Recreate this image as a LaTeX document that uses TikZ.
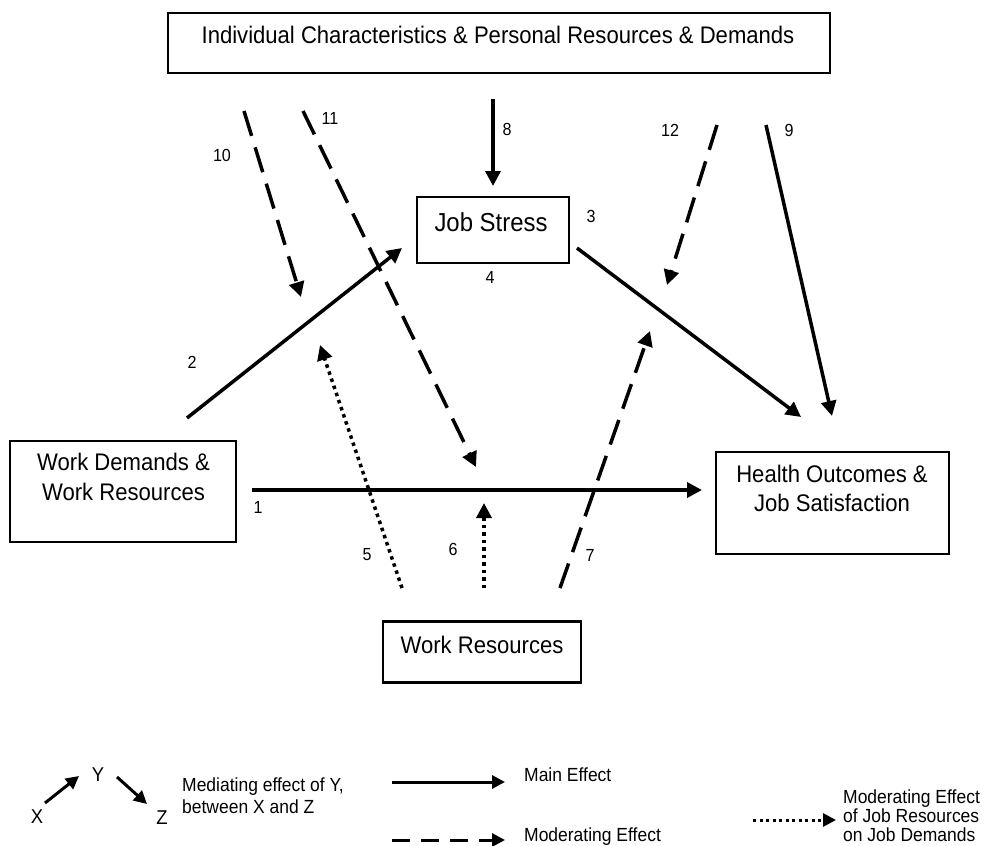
\documentclass[tikz,border=0pt]{standalone}
\usepackage{fontspec}
\setmainfont{Liberation Sans}[FakeStretch=0.92]
\usetikzlibrary{arrows.meta}
\begin{document}
\begin{tikzpicture}[x=1pt,y=-1pt,
  box/.style={draw,line width=2.6pt,inner sep=0pt},
  boxtext/.style={font=\fontsize{24}{29.5}\selectfont,align=center,inner sep=0pt},
  num/.style={font=\fontsize{17.5}{19}\selectfont,inner sep=0pt},
  leg/.style={font=\fontsize{19}{19}\selectfont,inner sep=0pt,align=left},
  tip/.style={-{Triangle[length=15pt,width=15pt]}},
  ltip/.style={-{Triangle[length=13pt,width=13pt]}},
  mainarr/.style={tip,line width=3.5pt},
  modarr/.style={tip,line width=3.5pt,dash pattern=on 26pt off 12pt},
  dotarr/.style={tip,line width=3.5pt,dash pattern=on 3.5pt off 4pt},
]
\useasboundingbox (0,0) rectangle (989,846);
% boxes
\node[box,minimum width=662pt,minimum height=60pt] (top) at (499,43) {};
\node[boxtext] (toptxt) at (498,35) {Individual Characteristics \& Personal Resources \& Demands};
\node[box,minimum width=152pt,minimum height=66pt] (js) at (493,230) {};
\node[boxtext,font=\fontsize{26}{30}\selectfont] (jstxt) at (491,222) {Job Stress};
\node[box,minimum width=226pt,minimum height=101pt] (wd) at (123,491.5) {};
\node[boxtext] (wdtxt) at (123.5,477) {Work Demands \&\\Work Resources};
\node[box,minimum width=233pt,minimum height=102pt] (ho) at (832.5,503) {};
\node[boxtext] (hotxt) at (832,488.5) {Health Outcomes \&\\Job Satisfaction};
\node[box,minimum width=198pt,minimum height=61pt] (wr) at (482,652) {};
\node[boxtext] (wrtxt) at (482,645) {Work Resources};
% arrow end points
\coordinate (a1s) at (252,490); \coordinate (a1e) at (702,490);
\coordinate (a2s) at (187,418); \coordinate (a2e) at (402,248);
\coordinate (a3s) at (577,248); \coordinate (a3e) at (801,417);
\coordinate (a8s) at (493,99); \coordinate (a8e) at (493,186);
\coordinate (a9s) at (766,125); \coordinate (a9e) at (832,416);
\coordinate (a10s) at (244,111); \coordinate (a10e) at (301,297);
\coordinate (a11s) at (303,111); \coordinate (a11e) at (476,467);
\coordinate (a12s) at (717,125); \coordinate (a12e) at (667,285);
\coordinate (a5s) at (402,588); \coordinate (a5e) at (320,345);
\coordinate (a6s) at (484,588); \coordinate (a6e) at (484,503);
\coordinate (a7s) at (560,588); \coordinate (a7e) at (650,331);
\draw[mainarr] (a1s) -- (a1e);
\draw[mainarr] (a2s) -- (a2e);
\draw[mainarr] (a3s) -- (a3e);
\draw[mainarr] (a8s) -- (a8e);
\draw[mainarr] (a9s) -- (a9e);
\draw[modarr] (a10s) -- (a10e);
\draw[modarr] (a11s) -- (a11e);
\draw[modarr] (a12s) -- (a12e);
\draw[modarr] (a7s) -- (a7e);
\draw[dotarr] (a5s) -- (a5e);
\draw[dotarr] (a6s) -- (a6e);
% numbers
\node[num] (n1) at (258,507) {1};
\node[num] (n2) at (192,362) {2};
\node[num] (n3) at (591,216) {3};
\node[num] (n4) at (490,277) {4};
\node[num] (n5) at (367,555) {5};
\node[num] (n6) at (453,549) {6};
\node[num] (n7) at (590,555) {7};
\node[num] (n8) at (507,129) {8};
\node[num] (n9) at (789,130) {9};
\node[num] (n10) at (222,155) {10};
\node[num] (n11) at (330,118) {11};
\node[num] (n12) at (670,130) {12};
% legend
\node[leg,font=\fontsize{20}{20}\selectfont] (lx) at (37,817) {X};
\node[leg,font=\fontsize{20}{20}\selectfont] (ly) at (98,775) {Y};
\node[leg,font=\fontsize{20}{20}\selectfont] (lz) at (162,818) {Z};
\coordinate (lxa) at (45,803); \coordinate (lxb) at (79,776);
\coordinate (lya) at (117,777); \coordinate (lyb) at (147,804);
\draw[ltip,line width=3pt] (lxa) -- (lxb);
\draw[ltip,line width=3pt] (lya) -- (lyb);
\node[leg,anchor=west,font=\fontsize{19}{22}\selectfont] (lmed) at (182,796) {Mediating effect of Y,\\between X and Z};
\coordinate (lm1) at (392,782); \coordinate (lm2) at (505,782);
\draw[ltip,line width=3pt] (lm1) -- (lm2);
\node[leg,anchor=west] (lmain) at (524,775) {Main Effect};
\coordinate (ld1) at (392,840); \coordinate (ld2) at (505,840);
\draw[ltip,line width=3pt,dash pattern=on 18pt off 11pt] (ld1) -- (ld2);
\node[leg,anchor=west] (lmod) at (524,837) {Moderating Effect};
\coordinate (lo1) at (753,820); \coordinate (lo2) at (836,820);
\draw[ltip,line width=3pt,dash pattern=on 3pt off 3.5pt] (lo1) -- (lo2);
\node[leg,anchor=west] (ljr) at (843,815.5) {Moderating Effect\\of Job Resources\\on Job Demands};
\end{tikzpicture}
\end{document}
